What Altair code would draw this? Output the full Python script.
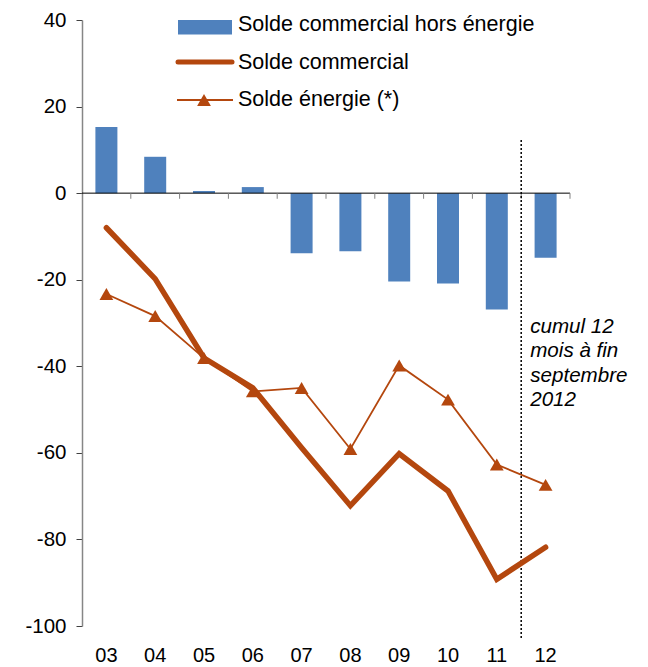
import altair as alt
import pandas as pd

annees = ["03", "04", "05", "06", "07", "08", "09", "10", "11", "12"]
hors_energie = [15.3, 8.4, 0.5, 1.4, -13.9, -13.4, -20.4, -20.9, -26.9, -14.9]
commercial = [-8.0, -19.8, -38.1, -45.0, -58.8, -72.2, -60.2, -68.8, -89.2, -81.8]
energie = [-23.3, -28.4, -38.1, -45.8, -45.0, -59.1, -39.8, -47.7, -62.7, -67.4]

leg_labels = ["Solde commercial hors énergie", "Solde commercial", "Solde énergie (*)"]
note_lines = ["cumul 12", "mois à fin", "septembre", "2012"]
y_ticks = [-100, -80, -60, -40, -20, 0, 20, 40]

BLUE = "#4F81BD"
BROWN = "#B4470E"
FONT = "Liberation Sans"

df = pd.DataFrame({"annee": annees, "hors": hors_energie,
                   "commercial": commercial, "energie": energie})

xscale = alt.Scale(domain=annees, paddingInner=0, paddingOuter=0)
yscale = alt.Scale(domain=[-100, 40], nice=False, zero=False)


def xenc(**kw):
    return alt.X("annee:N", scale=xscale, title=None, **kw)


bars = alt.Chart(df).mark_bar(color=BLUE, size=22).encode(
    x=xenc(axis=alt.Axis(domain=False, ticks=False, grid=False, labelAngle=0, labelPadding=19,
                         labelFontSize=20, labelColor="black", labelFont=FONT)),
    y=alt.Y("hors:Q", scale=yscale, title=None,
            axis=alt.Axis(values=y_ticks, grid=False, domainColor="#868686", domainWidth=1.5,
                          tickColor="#404040", tickSize=6, labelPadding=10,
                          labelFontSize=20.5, labelColor="black", labelFont=FONT,
                          labelExpr="datum.value < 0 ? '-' + abs(datum.value) : '' + datum.value")),
)

zero = alt.Chart(pd.DataFrame({"v": [0]})).mark_rule(color="black", strokeWidth=1).encode(
    y=alt.Y("v:Q", scale=yscale, title=None)
)

ticks = alt.Chart(df).mark_rule(color="#808080", strokeWidth=1).encode(
    x=xenc(bandPosition=1),
    y=alt.datum(0),
    y2=alt.datum(-1.3),
)

line_com = alt.Chart(df).mark_line(color=BROWN, strokeWidth=5.5, strokeCap="round",
                                   strokeJoin="miter").encode(
    x=xenc(),
    y=alt.Y("commercial:Q", scale=yscale, title=None),
)

line_en = alt.Chart(df).mark_line(color=BROWN, strokeWidth=1.8).encode(
    x=xenc(),
    y=alt.Y("energie:Q", scale=yscale, title=None),
)

pts_en = alt.Chart(df).mark_point(shape="triangle-up", filled=True, size=190,
                                  color=BROWN, opacity=1).encode(
    x=xenc(),
    y=alt.Y("energie:Q", scale=yscale, title=None),
)

last = pd.DataFrame({"annee": [annees[-1]], "note": [note_lines]})

dotted = alt.Chart(last).mark_rule(color="black", strokeWidth=1.5, strokeDash=[2, 2]).encode(
    x=xenc(bandPosition=0),
    y=alt.datum(12.3),
    y2=alt.datum(-102.8),
)

note = alt.Chart(last).mark_text(align="left", baseline="alphabetic", fontStyle="italic",
                                 fontSize=20.6, font=FONT, lineHeight=24.5, dx=9,
                                 color="black").encode(
    x=xenc(bandPosition=0),
    y=alt.datum(-32.3),
    text="note:N",
)

one = pd.DataFrame({"k": [0]})
leg_rect = alt.Chart(one).mark_rect(color=BLUE).encode(
    x=alt.value(96), x2=alt.value(150), y=alt.value(0), y2=alt.value(14.5)
)
leg_line1 = alt.Chart(one).mark_rule(color=BROWN, strokeWidth=5, strokeCap="round").encode(
    x=alt.value(96), x2=alt.value(150), y=alt.value(42)
)
leg_line2 = alt.Chart(one).mark_rule(color=BROWN, strokeWidth=1.8).encode(
    x=alt.value(95), x2=alt.value(151), y=alt.value(80)
)
leg_tri = alt.Chart(one).mark_point(shape="triangle-up", filled=True, size=190,
                                    color=BROWN, opacity=1).encode(
    x=alt.value(122), y=alt.value(80)
)


def leg_text(label, ypix):
    return alt.Chart(one).mark_text(align="left", baseline="middle", fontSize=21.5,
                                    font=FONT, color="black").encode(
        x=alt.value(156), y=alt.value(ypix), text=alt.value(label))


chart = alt.layer(
    bars, zero, ticks, dotted, line_com, line_en, pts_en, note,
    leg_rect, leg_line1, leg_line2, leg_tri,
    leg_text(leg_labels[0], 5), leg_text(leg_labels[1], 43), leg_text(leg_labels[2], 80),
).properties(
    width=488, height=606,
    padding={"left": 16, "top": 2, "right": 5, "bottom": 0},
).configure_view(stroke=None).configure_axis(labelFont=FONT)

chart.save("out.html", embed_options={"renderer": "svg", "actions": False})
